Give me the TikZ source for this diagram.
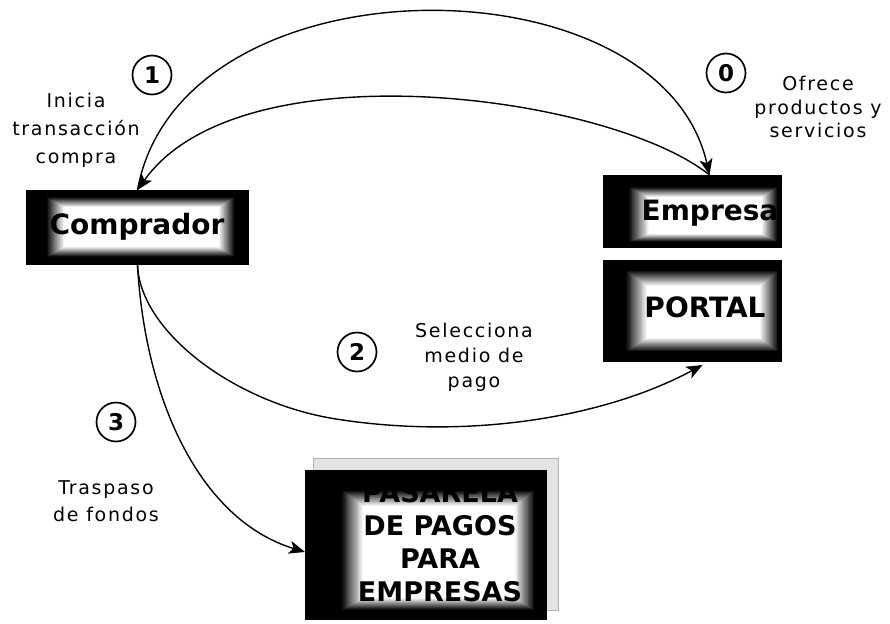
\documentclass[tikz,border=0pt]{standalone}
\usepackage{fontspec}
\setmainfont{DejaVu Sans}
\newfontfamily\lblfont{DejaVu Sans}[LetterSpace=9]
\usetikzlibrary{calc,arrows.meta}

\tikzset{
  % black panel whose centre fades to white: outer insets #1-#4, core insets #5-#8 (l,t,r,b)
  glow/.style n args={8}{path picture={
    \foreach \gi in {0,...,24}{
      \pgfmathsetmacro\gf{\gi/24}
      \pgfmathsetmacro\gl{#1+(#5-#1)*\gf}
      \pgfmathsetmacro\gt{#2+(#6-#2)*\gf}
      \pgfmathsetmacro\gr{#3+(#7-#3)*\gf}
      \pgfmathsetmacro\gb{#4+(#8-#4)*\gf}
      \pgfmathsetmacro\gw{100*\gf}
      \fill[white!\gw!black]
        ($(path picture bounding box.north west)+(\gl,\gt)$) rectangle
        ($(path picture bounding box.south east)+(-\gr,-\gb)$);
    }}},
  panel/.style={rectangle, fill=black, inner sep=0pt, outer sep=0pt},
  paneltext/.style={font=\bfseries\fontsize{28}{33}\selectfont, text=black, align=center, inner sep=0pt},
  lbl/.style={font=\lblfont\fontsize{19}{#1}\selectfont, align=center, inner sep=0pt},
  step circ/.style={circle, draw, line width=1.7pt, minimum size=39pt, inner sep=0pt,
    font=\bfseries\fontsize{23}{23}\selectfont},
  conn/.style={line width=1.4pt, -{Stealth[length=16pt,width=13pt,inset=4pt]}},
}

\begin{document}
\begin{tikzpicture}[x=1pt,y=-1pt]
\useasboundingbox[fill=white] (0,0) rectangle (890,623);

% panels
\node[panel, minimum width=223pt, minimum height=75pt,
      glow={20}{7}{14}{8}{38}{17}{30}{18}] (comp) at (137.5,227.5) {};
\node[panel, minimum width=179pt, minimum height=73pt,
      glow={25}{12}{4}{6}{46}{22}{20}{14}] (emp) at (692.5,211.5) {};
\node[panel, minimum width=179pt, minimum height=102pt,
      glow={22}{10}{3}{10}{44}{26}{22}{24}] (portal) at (692.5,311) {};
\node[rectangle, fill=gray!22, draw=gray!60, line width=1pt,
      minimum width=245pt, minimum height=152pt] (pasback) at (435.5,534) {};
\node[panel, minimum width=242pt, minimum height=150pt,
      glow={36}{20}{12}{10}{58}{36}{32}{22}] (pas) at (426,545) {};

% panel captions
\node[paneltext] (comp-t) at (137,227) {Comprador};
\node[paneltext] (emp-t) at (710,213) {Empresa};
\node[paneltext] (portal-t) at (705,307) {PORTAL};
\node[paneltext, font=\bfseries\fontsize{27}{33}\selectfont] (pas-t) at (440,542)
  {PASARELA\\DE PAGOS\\PARA\\EMPRESAS};

% step numbers
\node[step circ] (c1) at (152,75) {1};
\node[step circ] (c0) at (726,73) {0};
\node[step circ] (c2) at (357,352) {2};
\node[step circ] (c3) at (116,422) {3};

% step descriptions
\node[lbl=28] (l1) at (76,130) {Inicia\\transacción\\compra};
\node[lbl=23.5] (l0) at (818,107) {Ofrece\\productos y\\servicios};
\node[lbl=25] (l2) at (474,357) {Selecciona\\medio de\\pago};
\node[lbl=27] (l3) at (106,501) {Traspaso\\de fondos};

% flows
\draw[conn] (comp.north) .. controls (180,-45) and (660,-45) .. ([xshift=17pt]emp.north);
\draw[conn] ([xshift=17pt]emp.north) .. controls (610,95) and (240,45) .. (comp.north);
\draw[conn] (comp.south) .. controls (140,330) and (230,400) .. (330,418)
            .. controls (460,440) and (600,420) .. ([xshift=10pt,yshift=-3pt]portal.south);
\draw[conn] (comp.south) .. controls (145,400) and (200,520) .. ([yshift=-7pt]pas.west);
\end{tikzpicture}
\end{document}
